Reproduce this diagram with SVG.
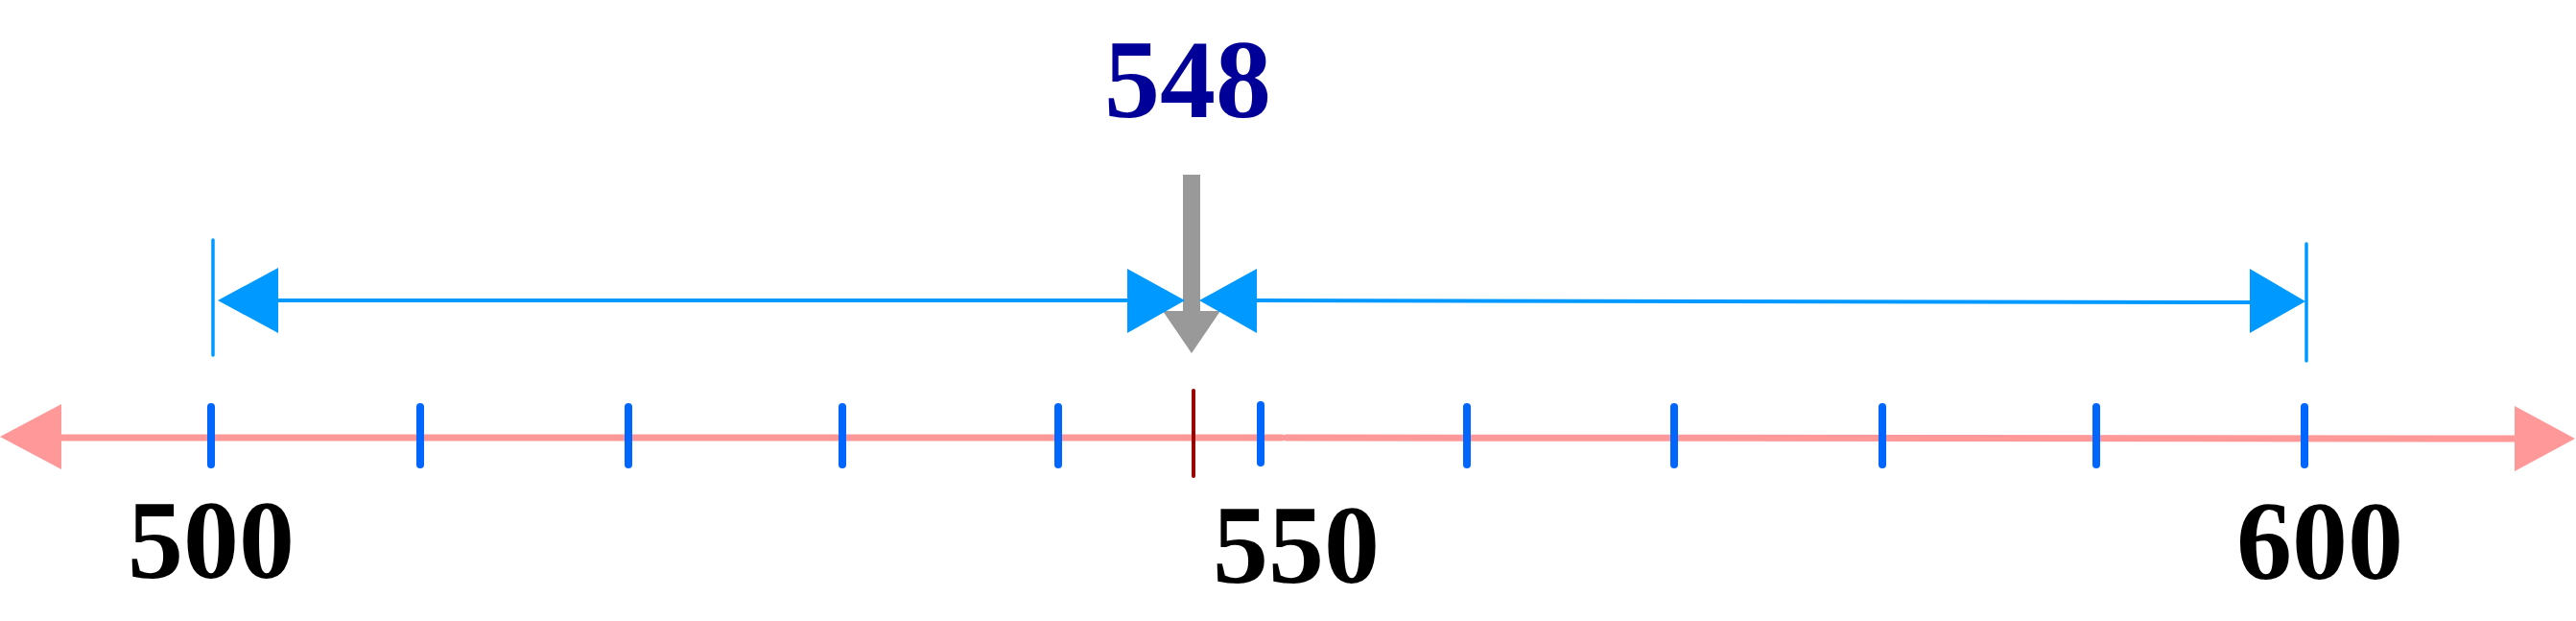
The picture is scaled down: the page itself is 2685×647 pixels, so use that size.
<svg xmlns="http://www.w3.org/2000/svg" width="2685" height="647" viewBox="0 0 2685 647">
<style>
.axis{stroke:#ff9999;stroke-width:7;stroke-linecap:round;fill:none}
.axhead{fill:#ff9999}
.tick{stroke:#0066ff;stroke-width:8;stroke-linecap:round}
.mark{stroke:#990000;stroke-width:4;stroke-linecap:round}
.dim{stroke:#0099ff;stroke-width:4;fill:none}
.bar{stroke:#0099ff;stroke-width:3.5;stroke-linecap:round}
.dimhead{fill:#0099ff}
.lbl{font-family:"Liberation Serif","Times New Roman",serif;font-weight:bold;font-size:116px;text-anchor:middle;fill:#000000}
.val{fill:#000099}
</style>
<g id="axis">
<line class="axis" x1="64" y1="456" x2="1336" y2="456"/>
<line class="axis" x1="1341" y1="456" x2="2621" y2="457"/>
<polygon class="axhead" points="0,455 64,421 64,489"/>
<polygon class="axhead" points="2684,457 2621,423 2621,491"/>
</g>
<g id="ticks">
<line class="tick" x1="220" y1="424" x2="220" y2="484"/>
<line class="tick" x1="438" y1="424" x2="438" y2="484"/>
<line class="tick" x1="655" y1="424" x2="655" y2="484"/>
<line class="tick" x1="878" y1="424" x2="878" y2="484"/>
<line class="tick" x1="1103" y1="424" x2="1103" y2="484"/>
<line class="tick" x1="1314" y1="422" x2="1314" y2="482"/>
<line class="tick" x1="1529" y1="424" x2="1529" y2="484"/>
<line class="tick" x1="1745" y1="424" x2="1745" y2="484"/>
<line class="tick" x1="1962" y1="424" x2="1962" y2="484"/>
<line class="tick" x1="2185" y1="424" x2="2185" y2="484"/>
<line class="tick" x1="2402" y1="424" x2="2402" y2="484"/>
</g>
<g id="marker548">
<line class="mark" x1="1244" y1="407" x2="1244" y2="496"/>
</g>
<g id="labels">
<text class="lbl" x="220" y="602">500</text>
<text class="lbl" x="1351" y="607">550</text>
<text class="lbl" x="2418" y="603">600</text>
<text class="lbl val" x="1238" y="122">548</text>
</g>
<g id="pointer">
<rect x="1233" y="182" width="18" height="143" fill="#999999"/>
<polygon points="1212,324 1272,324 1242,368" fill="#999999"/>
</g>
<g id="connectors">
<line class="bar" x1="222" y1="250" x2="222" y2="370"/>
<line class="bar" x1="2404" y1="254" x2="2404" y2="376"/>
<line class="dim" x1="290" y1="313" x2="1175" y2="313"/>
<line class="dim" x1="1310" y1="313" x2="2345" y2="315"/>
<polygon class="dimhead" points="227,313 290,279 290,347"/>
<polygon class="dimhead" points="1235,313 1175,280 1175,347"/>
<polygon class="dimhead" points="1250,313 1310,280 1310,347"/>
<polygon class="dimhead" points="2403,314 2345,280 2345,347"/>
</g>
</svg>
